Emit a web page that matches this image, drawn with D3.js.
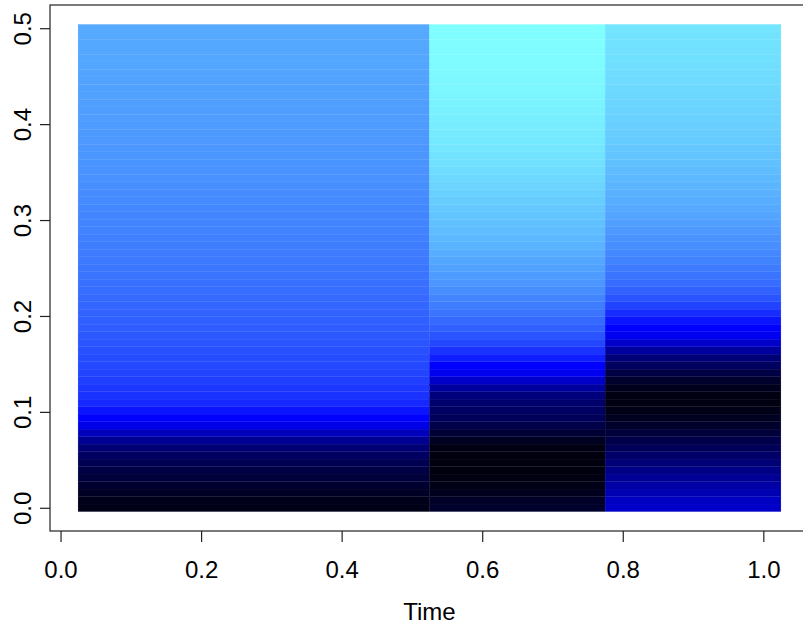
<!DOCTYPE html>
<html>
<head>
<meta charset="utf-8">
<script src="https://cdn.jsdelivr.net/npm/d3@7"></script>
<style>
  html, body { margin: 0; padding: 0; background: #fff; }
  svg { display: block; font-family: "Liberation Sans", Arial, Helvetica, sans-serif; }
</style>
</head>
<body>
<svg id="chart" width="803" height="624"></svg>
<script>
// Time segment edges (columns of the image)
const timeEdges = [0.025, 0.525, 0.775, 1.025];
// Frequency grid: 65 rows, 0 .. 0.5 step 1/128
const freqStep = 1 / 128;
const freqs = d3.range(65).map(k => k * freqStep);

// Normalised spectral level (0 = darkest, 1 = lightest), bottom row first
const level1 = [0.015,0.02,0.04,0.057,0.074,0.09,0.115,0.14,0.17,0.22,0.29,0.36,0.40,0.447,0.494,0.517,0.53,0.545,0.56,0.569,0.578,0.5875,0.597,0.606,0.616,0.625,0.634,0.639,0.648,0.658,0.662,0.672,0.677,0.686,0.69,0.695,0.70,0.705,0.71,0.714,0.719,0.724,0.73,0.735,0.74,0.744,0.748,0.752,0.756,0.76,0.763,0.766,0.769,0.772,0.775,0.778,0.781,0.784,0.787,0.79,0.792,0.794,0.796,0.798,0.80];
const level2 = [0.049,0.044,0.027,0.015,0.007,0.0,0.0,0.0,0.007,0.032,0.065,0.099,0.124,0.14,0.157,0.182,0.24,0.308,0.375,0.40,0.47,0.517,0.564,0.597,0.625,0.648,0.672,0.695,0.714,0.733,0.752,0.766,0.78,0.794,0.808,0.822,0.836,0.845,0.855,0.864,0.873,0.883,0.892,0.902,0.911,0.92,0.93,0.934,0.944,0.948,0.953,0.958,0.9625,0.967,0.972,0.977,0.98,0.984,0.987,0.99,0.992,0.994,0.996,0.998,1.0];
const level3 = [0.308,0.30,0.274,0.249,0.224,0.199,0.174,0.149,0.124,0.099,0.074,0.049,0.032,0.015,0.007,0.007,0.023,0.049,0.09,0.132,0.174,0.24,0.308,0.375,0.40,0.447,0.503,0.555,0.597,0.63,0.653,0.672,0.69,0.705,0.719,0.733,0.747,0.761,0.775,0.789,0.798,0.808,0.817,0.827,0.836,0.845,0.855,0.864,0.869,0.878,0.883,0.8875,0.892,0.897,0.902,0.906,0.911,0.916,0.92,0.923,0.926,0.929,0.932,0.935,0.938];
const levels = [level1, level2, level3];

const xTicks = [0.0, 0.2, 0.4, 0.6, 0.8, 1.0];
const yTicks = [0.0, 0.1, 0.2, 0.3, 0.4, 0.5];
const xLabel = "Time";

const svg = d3.select("#chart");
const x = d3.scaleLinear().domain([-0.015, 1.065]).range([50, 809]);
const y = d3.scaleLinear().domain([-0.0242, 0.5242]).range([531, 5]);
const color = d3.scaleLinear().domain([0, 0.4, 1]).range(["#00000e", "#0000ff", "#80ffff"]).clamp(true);

const cells = [];
levels.forEach((col, i) => {
  col.forEach((v, k) => {
    cells.push({ t0: timeEdges[i], t1: timeEdges[i + 1], f: freqs[k], v });
  });
});

svg.append("g").selectAll("rect").data(cells).join("rect")
  .attr("x", d => x(d.t0))
  .attr("width", d => x(d.t1) - x(d.t0))
  .attr("y", d => y(d.f + freqStep / 2))
  .attr("height", d => y(d.f - freqStep / 2) - y(d.f + freqStep / 2))
  .attr("fill", d => color(d.v))
  .attr("stroke", d => color(d.v))
  .attr("stroke-width", 0.3);

// box
svg.append("rect")
  .attr("x", 50).attr("y", 5)
  .attr("width", 809 - 50).attr("height", 531 - 5)
  .attr("fill", "none").attr("stroke", "#222").attr("stroke-width", 1.2);

const fs = 24;
const xAxis = svg.append("g").attr("transform", "translate(0,531)")
  .call(d3.axisBottom(x).tickValues(xTicks).tickFormat(d3.format(".1f")).tickSize(11).tickSizeOuter(0));
xAxis.select(".domain").remove();
xAxis.selectAll("line").attr("stroke", "#222").attr("stroke-width", 1.2);
xAxis.selectAll("text").attr("y", 47).attr("dy", null)
  .attr("font-size", fs).attr("fill", "#000")
  .attr("font-family", "'Liberation Sans', Arial, sans-serif");

const yAxis = svg.append("g").attr("transform", "translate(50,0)")
  .call(d3.axisLeft(y).tickValues(yTicks).tickFormat(d3.format(".1f")).tickSize(10).tickSizeOuter(0));
yAxis.select(".domain").remove();
yAxis.selectAll("line").attr("stroke", "#222").attr("stroke-width", 1.2);
yAxis.selectAll("text")
  .attr("x", null).attr("dy", null)
  .attr("text-anchor", "middle")
  .attr("transform", "translate(-19,0) rotate(-90)")
  .attr("font-size", fs).attr("fill", "#000")
  .attr("font-family", "'Liberation Sans', Arial, sans-serif");

svg.append("text")
  .attr("x", 429.5).attr("y", 620)
  .attr("text-anchor", "middle")
  .attr("font-size", fs)
  .attr("fill", "#000")
  .text(xLabel);
</script>
</body>
</html>
